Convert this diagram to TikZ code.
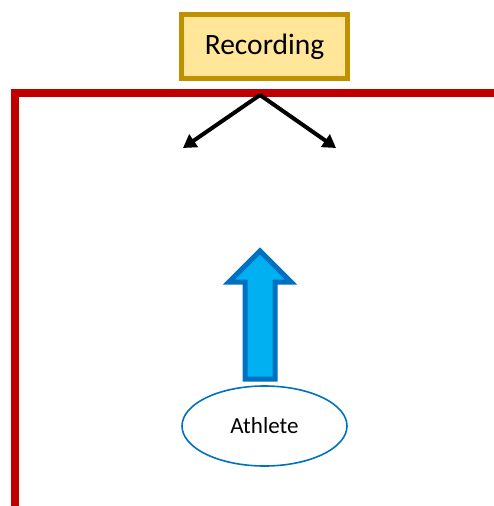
\documentclass[tikz,border=0pt]{standalone}
\usepackage{fontspec}
\setmainfont{Carlito}
\usepackage{tikz}
\usetikzlibrary{arrows.meta, positioning, shapes.geometric}

\definecolor{recfill}{HTML}{FFE699}
\definecolor{recline}{HTML}{BF9000}
\definecolor{wallred}{HTML}{C00000}
\definecolor{athblue}{HTML}{0070C0}
\definecolor{arrowfill}{HTML}{00B0F0}

\tikzset{
  recbox/.style={draw=recline, fill=recfill, line width=5pt, minimum width=166pt, minimum height=64pt, inner sep=0pt, font=\fontsize{29.5}{33}\selectfont},
  athnode/.style={ellipse, draw=athblue, line width=1.6pt, minimum width=165pt, minimum height=80pt, inner sep=0pt, font=\fontsize{23}{27}\selectfont},
  viewarrow/.style={line width=4pt, -{Triangle[length=13pt,width=15pt]}},
  wall/.style={draw=wallred, line width=7.5pt, miter limit=10}
}

\begin{document}
\begin{tikzpicture}[x=1pt, y=-1pt]
\useasboundingbox (0,0) rectangle (494,506);
% wall
\draw[wall] (15,506) -- (15,93) -- (494,93);
% camera and athlete
\node[recbox] (rec) at (264.5,46.5) {Recording};
\node[athnode] (athlete) at (264.5,426) {Athlete};
% viewing directions
\coordinate (apex) at (260,95);
\foreach \n/\x in {left/183,right/336} {
  \coordinate (\n) at (\x,148);
  \draw[viewarrow] (apex) -- (\n);
}
% running direction
\draw[draw=athblue, fill=arrowfill, line width=5pt] (245,379) -- (245,282) -- (229,282) -- (260,251) -- (291,282) -- (275,282) -- (275,379) -- cycle;
\end{tikzpicture}
\end{document}
